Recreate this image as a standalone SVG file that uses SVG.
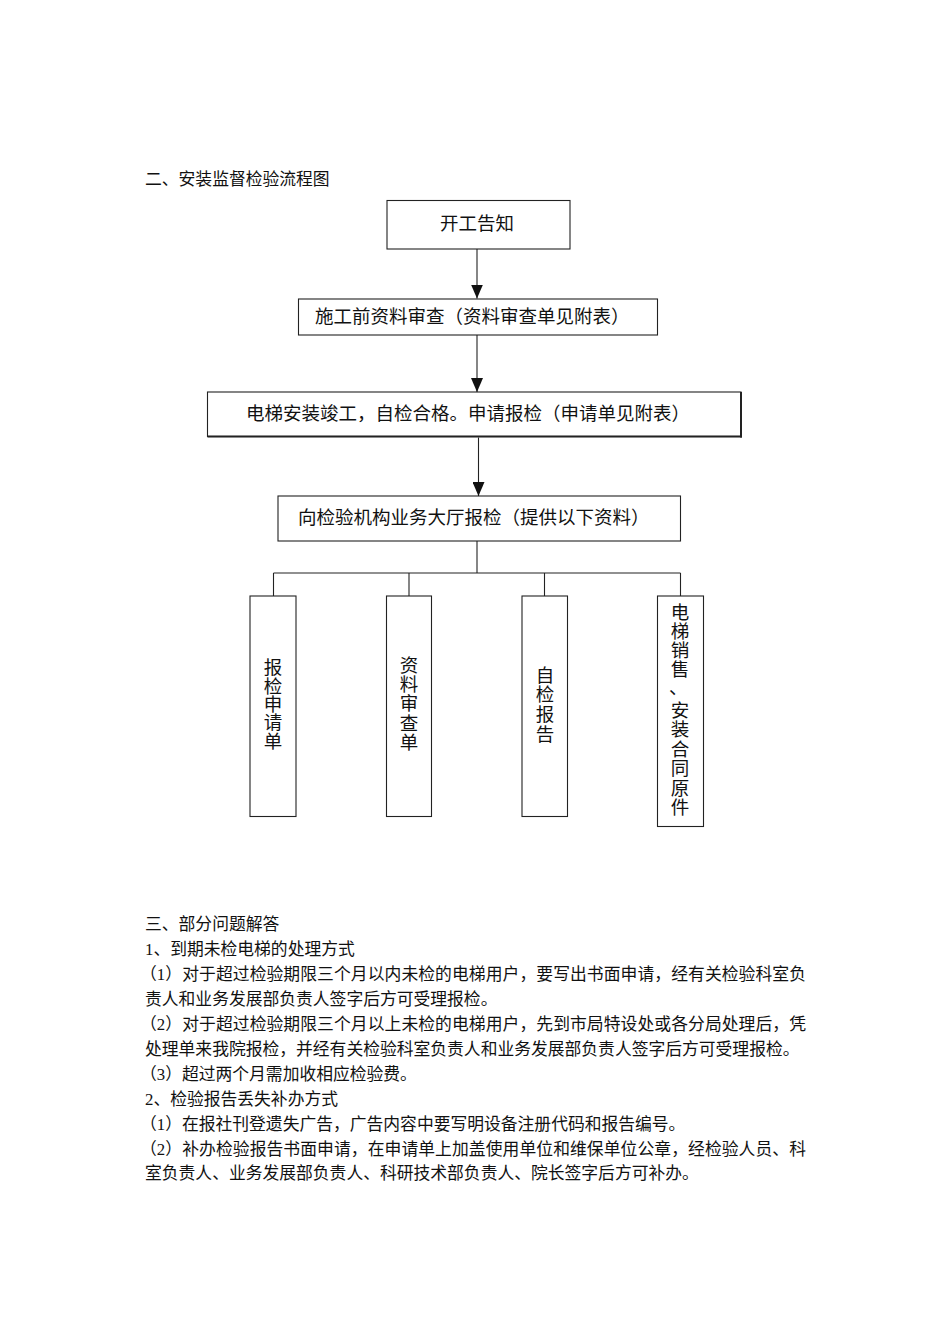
<svg xmlns="http://www.w3.org/2000/svg" width="950" height="1344" viewBox="0 0 950 1344">
<defs>
<style>
text{font-family:"Liberation Serif","Noto Sans CJK SC",serif;fill:#111;}
.body{font-size:16.8px;}
.box{font-size:18.5px;}
.v{font-size:18.5px;text-anchor:middle;}
.node rect{fill:#fff;stroke:#222;stroke-width:1.1;}
.conn line{stroke:#222;stroke-width:1.1;}
</style>
<marker id="ah" markerWidth="14" markerHeight="12" refX="14" refY="6" orient="auto" markerUnits="userSpaceOnUse" viewBox="0 0 14 12">
<path d="M0,0 L14,6 L0,12 Z" fill="#111"/>
</marker>
</defs>
<rect width="950" height="1344" fill="#fff"/>

<text class="body" x="145" y="185.4">二、安装监督检验流程图</text>

<g id="n1" class="node">
<rect x="387" y="200.5" width="183" height="48.5"/>
<text class="box" x="440" y="230">开工告知</text>
</g>
<g id="n2" class="node">
<rect x="298.5" y="299" width="359" height="36"/>
<text class="box" x="315" y="323">施工前资料审查（资料审查单见附表）</text>
</g>
<g id="n3" class="node">
<rect x="207.5" y="392" width="533.5" height="44.5"/>
<line x1="207.5" y1="436.5" x2="742" y2="436.5" stroke="#222" stroke-width="2"/>
<line x1="741" y1="392" x2="741" y2="437.5" stroke="#222" stroke-width="2"/>
<text class="box" x="246" y="420">电梯安装竣工，自检合格。申请报检（申请单见附表）</text>
</g>
<g id="n4" class="node">
<rect x="278" y="496" width="402.5" height="45"/>
<text class="box" x="298" y="523.5">向检验机构业务大厅报检（提供以下资料）</text>
</g>

<g id="n5" class="node">
<rect x="250" y="596" width="46" height="220.5"/>
<text class="v" x="273" y="674">报</text>
<text class="v" x="273" y="692.5">检</text>
<text class="v" x="273" y="711">申</text>
<text class="v" x="273" y="729">请</text>
<text class="v" x="273" y="747.5">单</text>
</g>
<g id="n6" class="node">
<rect x="386.5" y="596" width="45" height="220.5"/>
<text class="v" x="409" y="672">资</text>
<text class="v" x="409" y="691">料</text>
<text class="v" x="409" y="710">审</text>
<text class="v" x="409" y="729.5">查</text>
<text class="v" x="409" y="748.5">单</text>
</g>
<g id="n7" class="node">
<rect x="522" y="596" width="45.5" height="220.5"/>
<text class="v" x="545" y="682">自</text>
<text class="v" x="545" y="701">检</text>
<text class="v" x="545" y="721">报</text>
<text class="v" x="545" y="740.5">告</text>
</g>
<g id="n8" class="node">
<rect x="657.5" y="596" width="46" height="230.5"/>
<text class="v" x="680" y="618.5">电</text>
<text class="v" x="680" y="637.5">梯</text>
<text class="v" x="680" y="656.5">销</text>
<text class="v" x="680" y="675.5">售</text>
<text class="box" x="669" y="694">、</text>
<text class="v" x="680" y="716.5">安</text>
<text class="v" x="680" y="736">装</text>
<text class="v" x="680" y="755.5">合</text>
<text class="v" x="680" y="775">同</text>
<text class="v" x="680" y="794.5">原</text>
<text class="v" x="680" y="814">件</text>
</g>

<g id="connectors" class="conn">
<line x1="477" y1="249" x2="477" y2="298.5" marker-end="url(#ah)"/>
<line x1="477" y1="335" x2="477" y2="392" marker-end="url(#ah)"/>
<line x1="478.5" y1="437.5" x2="478.5" y2="496" marker-end="url(#ah)"/>
<line x1="477" y1="541" x2="477" y2="573"/>
<line x1="273.5" y1="573" x2="680.5" y2="573"/>
<line x1="273.5" y1="573" x2="273.5" y2="596"/>
<line x1="409" y1="573" x2="409" y2="596"/>
<line x1="544.5" y1="573" x2="544.5" y2="596"/>
<line x1="680.5" y1="573" x2="680.5" y2="596"/>
</g>

<g id="notes" class="body">
<text x="145" y="930.4">三、部分问题解答</text>
<text x="145" y="955.3">1、到期未检电梯的处理方式</text>
<text x="140" y="980.2" textLength="666" lengthAdjust="spacing">（1）对于超过检验期限三个月以内未检的电梯用户，要写出书面申请，经有关检验科室负</text>
<text x="145" y="1005.1">责人和业务发展部负责人签字后方可受理报检。</text>
<text x="140" y="1030" textLength="666" lengthAdjust="spacing">（2）对于超过检验期限三个月以上未检的电梯用户，先到市局特设处或各分局处理后，凭</text>
<text x="145" y="1054.9">处理单来我院报检，并经有关检验科室负责人和业务发展部负责人签字后方可受理报检。</text>
<text x="140" y="1079.8">（3）超过两个月需加收相应检验费。</text>
<text x="145" y="1104.7">2、检验报告丢失补办方式</text>
<text x="140" y="1129.6">（1）在报社刊登遗失广告，广告内容中要写明设备注册代码和报告编号。</text>
<text x="140" y="1154.5" textLength="666" lengthAdjust="spacing">（2）补办检验报告书面申请，在申请单上加盖使用单位和维保单位公章，经检验人员、科</text>
<text x="145" y="1179.4">室负责人、业务发展部负责人、科研技术部负责人、院长签字后方可补办。</text>
</g>
</svg>
